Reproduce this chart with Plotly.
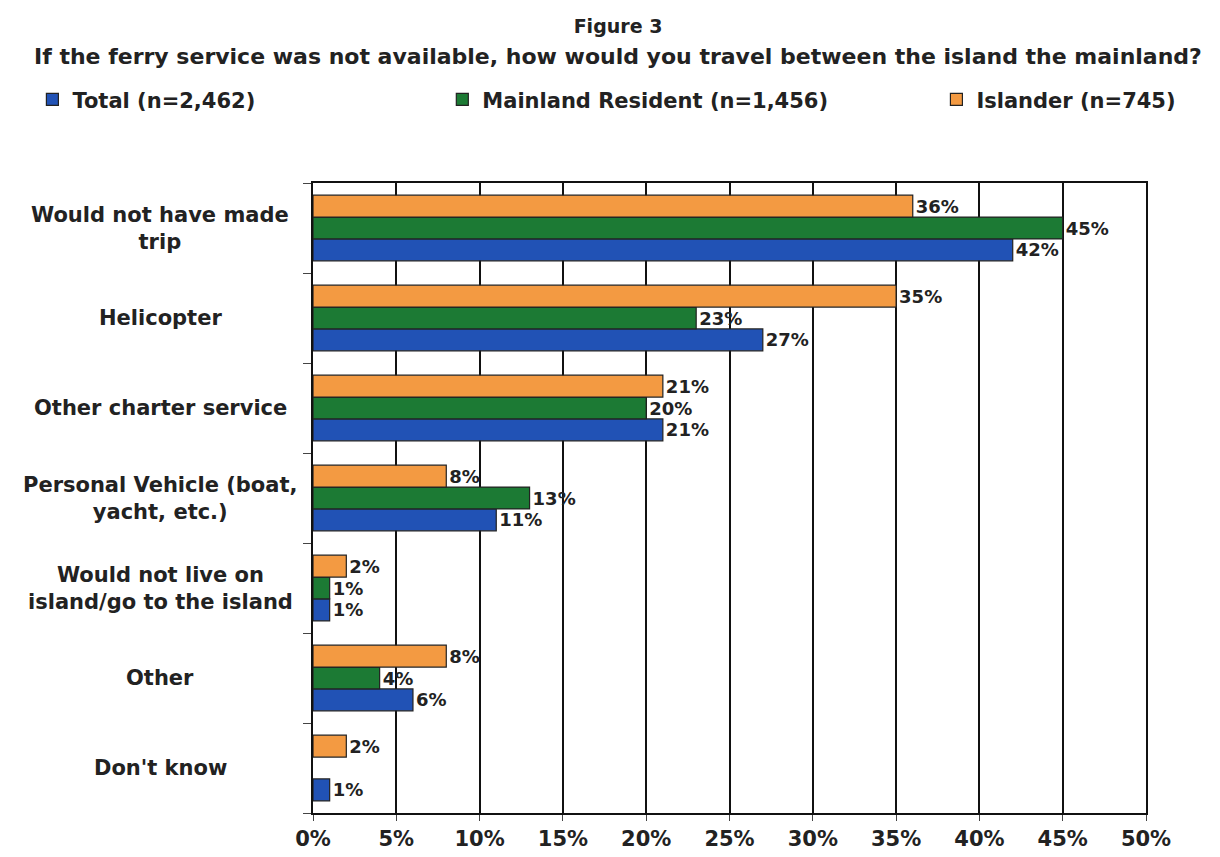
import plotly.graph_objects as go

categories = ["Would not have made trip", "Helicopter", "Other charter service",
              "Personal Vehicle (boat, yacht, etc.)", "Would not live on island/go to the island",
              "Other", "Don't know"]
cat_labels = ["Would not have made<br>trip", "Helicopter", "Other charter service",
              "Personal Vehicle (boat,<br>yacht, etc.)", "Would not live on<br>island/go to the island",
              "Other", "Don't know"]
total = [42, 27, 21, 11, 1, 6, 1]
mainland = [45, 23, 20, 13, 1, 4, None]
islander = [36, 35, 21, 8, 2, 8, 2]
series_names = ["Total (n=2,462)", "Mainland Resident (n=1,456)", "Islander (n=745)"]
colors = ["#2152b5", "#1c7a34", "#f39a42"]
legend_ids = ["legend", "legend2", "legend3"]
legend_x = [0.02, 0.356, 0.761]
title_line1 = "Figure 3"
title_line2 = "If the ferry service was not available, how would you travel between the island the mainland?"

# plot bottom-to-top so the first category sits on top
cats_r = categories[::-1]
labels_r = cat_labels[::-1]
FONT = "DejaVu Sans"
TXT = "#222222"

fig = go.Figure()
for name, vals, col, lg in zip(series_names, [total, mainland, islander], colors, legend_ids):
    v = vals[::-1]
    fig.add_trace(go.Bar(
        y=cats_r, x=v, name=f"<b>{name}</b>", orientation="h", legend=lg,
        marker=dict(color=col, line=dict(color="#222222", width=1.2)),
        text=[f"<b>{x}%</b>" if x is not None else "" for x in v],
        textposition="outside", cliponaxis=False,
        textfont=dict(family=FONT, size=18, color=TXT),
    ))

plot_l, plot_r = 305, 1138
plot_w = plot_r - plot_l
for c, lab in zip(cats_r, labels_r):
    fig.add_annotation(x=(152 - plot_l) / plot_w, xref="paper", y=c, yref="y", text=f"<b>{lab}</b>",
                       showarrow=False, align="center", xanchor="center",
                       font=dict(family=FONT, size=21, color=TXT))

# second title line
plot_t, plot_b = 175, 805
plot_h = plot_b - plot_t
fig.add_annotation(x=(610 - plot_l) / plot_w, xref="paper", y=1 + (plot_t - 48) / plot_h, yref="paper",
                   text=f"<b>{title_line2}</b>", showarrow=False, xanchor="center",
                   yanchor="middle", font=dict(family=FONT, size=22, color=TXT))

leg_common = dict(orientation="h", yref="container", xref="container", y=0.893,
                  yanchor="middle", xanchor="left",
                  font=dict(family=FONT, size=21, color=TXT), itemwidth=30)
layout_legends = {}
for lg, lx in zip(legend_ids, legend_x):
    layout_legends[lg] = dict(leg_common, x=lx)

fig.update_layout(
    width=1220, height=857, showlegend=True,
    paper_bgcolor="white", plot_bgcolor="white",
    margin=dict(l=plot_l, r=1220 - plot_r, t=plot_t, b=857 - plot_b),
    barmode="group", bargap=0.27, bargroupgap=0.0,
    title=dict(text=f"<b>{title_line1}</b>", x=0.5, xref="container", xanchor="center",
               yref="container", y=1 - 18 / 857, yanchor="middle",
               font=dict(family=FONT, size=19, color=TXT)),
    xaxis=dict(range=[0, 50], dtick=5, showgrid=True, gridcolor="#111111",
               gridwidth=1.5, showline=True, linecolor="#111111", linewidth=1.5, mirror=True,
               zeroline=False, ticks="outside", ticklen=6,
               tickprefix="<b>", ticksuffix="%</b>",
               tickfont=dict(family=FONT, size=21, color=TXT)),
    yaxis=dict(showticklabels=False, showline=True, linecolor="#111111", linewidth=1.5,
               mirror=True, ticks="outside", ticklen=8, tickson="boundaries", showgrid=False),
    font=dict(family=FONT),
    **layout_legends,
)

fig.write_html("out.html")
